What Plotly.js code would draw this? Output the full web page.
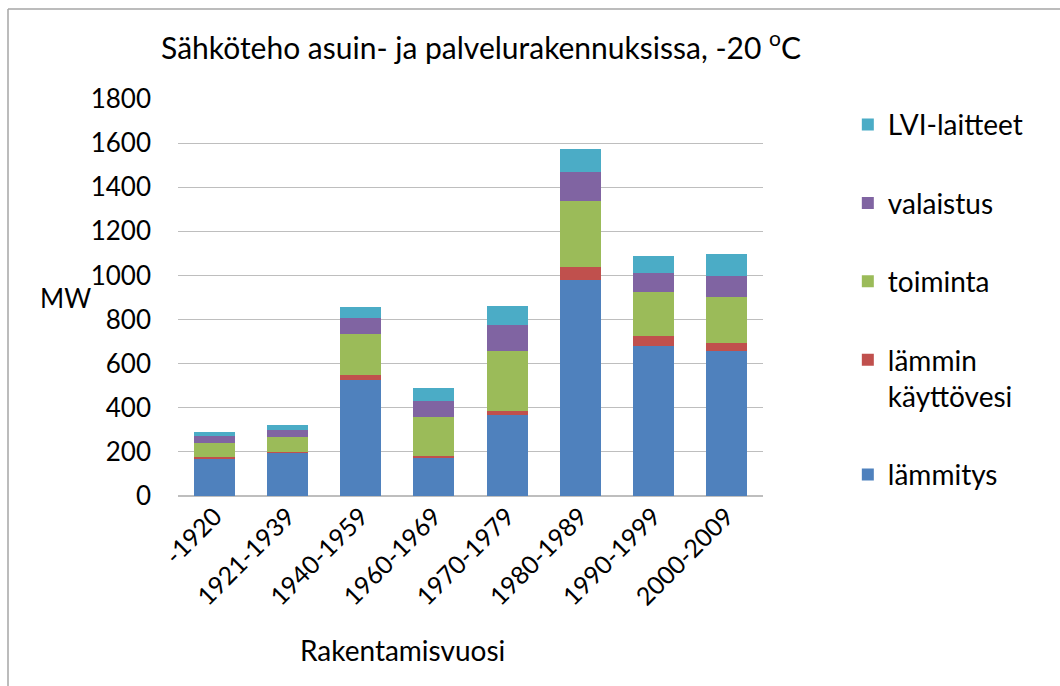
<!DOCTYPE html>
<html>
<head>
<meta charset="utf-8">
<script src="https://cdn.plot.ly/plotly-3.0.1.min.js"></script>
<style>
html,body{margin:0;padding:0;background:#fff;}
#chart{width:1060px;height:686px;}
</style>
</head>
<body>
<div id="chart"></div>
<script>
const categories = ["-1920","1921-1939","1940-1959","1960-1969","1970-1979","1980-1989","1990-1999","2000-2009"];
const lammitys   = [170, 193, 526, 171, 367, 979, 681, 657];
const lamminVesi = [8, 8, 22, 10, 20, 61, 44, 38];
const toiminta   = [64, 68, 185, 176, 272, 299, 201, 208];
const valaistus  = [31, 30, 72, 75, 116, 131, 86, 94];
const lviLaitteet= [18, 23, 53, 56, 88, 103, 76, 100];

const seriesNames = ["lämmitys", "lämmin<br>käyttövesi", "toiminta", "valaistus", "LVI-laitteet"];
const seriesValues = [lammitys, lamminVesi, toiminta, valaistus, lviLaitteet];
const seriesColors = ["#4F81BD", "#C0504D", "#9BBB59", "#8064A2", "#4BACC6"];

const FONT = "Lato, 'Liberation Sans', sans-serif";

const traces = seriesNames.map((n, i) => ({
  type: "bar",
  name: n,
  x: categories,
  y: seriesValues[i],
  marker: {color: seriesColors[i], line: {width: 0}},
  legendgroup: "g" + i,
  legendrank: 1000 - i,
  hoverinfo: "x+y+name"
}));

const layout = {
  width: 1060,
  height: 686,
  paper_bgcolor: "#fff",
  plot_bgcolor: "#fff",
  margin: {l: 178, r: 297, t: 99, b: 190},
  barmode: "stack",
  bargap: 0.44,
  font: {family: FONT, size: 26, color: "#000"},
  title: {
    text: "Sähköteho asuin- ja palvelurakennuksissa, -20 <sup>o</sup>C",
    font: {family: FONT, size: 30, color: "#000"},
    xref: "paper", x: 0.518, xanchor: "center",
    yref: "container", y: 0.93, yanchor: "middle"
  },
  xaxis: {
    type: "category",
    tickangle: -45,
    tickfont: {family: FONT, size: 25, color: "#000"},
    showgrid: false,
    showline: false,
    ticks: "",
    fixedrange: true
  },
  yaxis: {
    range: [0, 1800],
    dtick: 200,
    tickfont: {family: FONT, size: 26, color: "#000"},
    showgrid: true,
    gridcolor: "#BEBEBE",
    gridwidth: 1.2,
    zeroline: true,
    zerolinecolor: "#BEBEBE",
    zerolinewidth: 1.2,
    showline: false,
    ticks: "",
    ticklabelstandoff: 26,
    fixedrange: true
  },
  legend: {
    x: 1.145, xanchor: "left",
    y: 0.998, yanchor: "top",
    traceorder: "grouped",
    tracegroupgap: 39,
    valign: "top",
    maxheight: 640,
    font: {family: FONT, size: 28, color: "#000"},
    bgcolor: "rgba(0,0,0,0)"
  },
  annotations: [
    {text: "MW", xref: "paper", yref: "paper", x: -0.193, y: 0.499,
     xanchor: "center", yanchor: "middle", showarrow: false,
     font: {family: FONT, size: 26, color: "#000"}},
    {text: "Rakentamisvuosi", xref: "paper", yref: "paper", x: 0.383, y: -0.388,
     xanchor: "center", yanchor: "middle", showarrow: false,
     font: {family: FONT, size: 28, color: "#000"}}
  ],
  shapes: [
    {type: "line", xref: "paper", yref: "paper", x0: -0.2906, x1: 1.52, y0: 1.2267, y1: 1.2267,
     line: {color: "#A6A6A6", width: 1.5}, layer: "below"},
    {type: "line", xref: "paper", yref: "paper", x0: -0.2906, x1: -0.2906, y0: 1.2267, y1: -0.5,
     line: {color: "#A6A6A6", width: 1.5}, layer: "below"}
  ],
  showlegend: true
};

Plotly.newPlot("chart", traces, layout, {displayModeBar: false, staticPlot: true});
</script>
</body>
</html>
